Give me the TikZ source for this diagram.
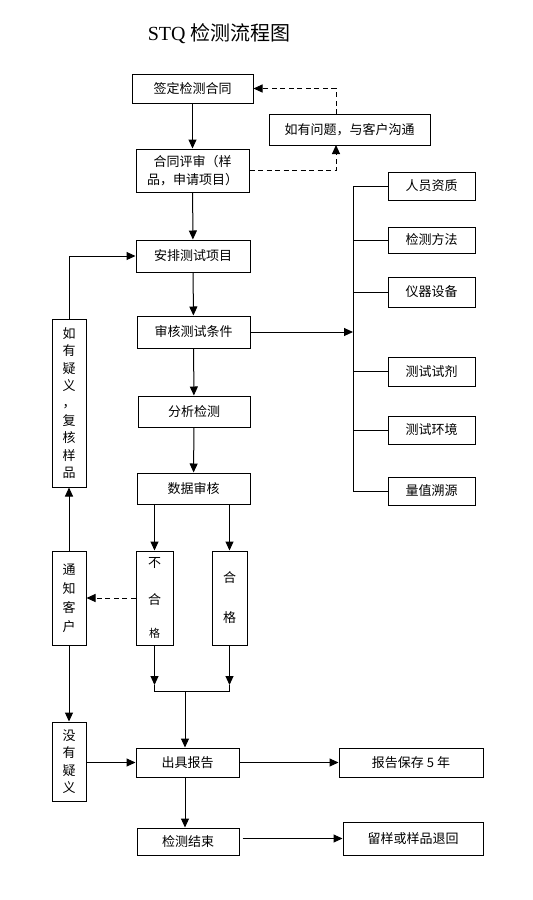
\documentclass[tikz,border=0pt]{standalone}
\usepackage{fontspec}
\setmainfont{Noto Sans CJK SC}
\newfontfamily\titlelatin{Liberation Serif}
\usetikzlibrary{arrows.meta}
\begin{document}
\begin{tikzpicture}[x=1pt,y=-1pt,
 box/.style={draw, line width=1pt, inner sep=0pt, align=center, font=\fontsize{13}{17.4}\selectfont},
 arr/.style={-{Triangle[length=9pt,width=8pt]}, line width=1pt},
 ln/.style={line width=1pt},
 dsh/.style={dash pattern=on 5pt off 3.5pt}]
\useasboundingbox[fill=white] (0,0) rectangle (533,900);

\node[font=\fontsize{20}{24}\selectfont] (title) at (219,34) {{\titlelatin STQ} 检测流程图};

% main column
\node[box, minimum width=121pt, minimum height=29pt] (b1) at (192.5,88.5) {签定检测合同};
\node[box, minimum width=161pt, minimum height=31pt] (q) at (349.5,129.5) {如有问题，与客户沟通};
\node[box, minimum width=113pt, minimum height=43pt] (b2) at (192.5,170.5) {合同评审（样\\品，申请项目）};
\node[box, minimum width=114pt, minimum height=32pt] (b3) at (193,256) {安排测试项目};
\node[box, minimum width=113pt, minimum height=32pt] (b4) at (193.5,332) {审核测试条件};
\node[box, minimum width=112pt, minimum height=31pt] (b5) at (194,411.5) {分析检测};
\node[box, minimum width=113pt, minimum height=31pt] (b6) at (193.5,488.5) {数据审核};

% left column
\node[box, minimum width=34pt, minimum height=168pt] (L1) at (69,403) {如\\有\\疑\\义\\，\\复\\核\\样\\品};
\node[box, minimum width=34pt, minimum height=94pt] (N) at (69,598) {通\\[1.6pt]知\\[1.6pt]客\\[1.6pt]户};
\node[box, minimum width=34pt, minimum height=79pt] (M) at (69,761.5) {没\\有\\疑\\义};

% pass / fail
\node[box, minimum width=37pt, minimum height=94pt] (NG) at (154.5,598) {不\\[19.6pt]合\\[15.6pt]{\fontsize{11}{13}\selectfont 格}};
\node[box, minimum width=35pt, minimum height=94pt] (OK) at (229.5,598) {合\\[22.6pt]格};

% bottom
\node[box, minimum width=103pt, minimum height=29pt] (R) at (187.5,762.5) {出具报告};
\node[box, minimum width=144pt, minimum height=29pt] (S) at (411,762.5) {报告保存 5 年};
\node[box, minimum width=102pt, minimum height=27pt] (E) at (188,841.5) {检测结束};
\node[box, minimum width=140pt, minimum height=33pt] (K) at (413,838.5) {留样或样品退回};

% right column
\node[box, minimum width=87pt, minimum height=28pt] (r1) at (431.5,186) {人员资质};
\node[box, minimum width=87pt, minimum height=26pt] (r2) at (431.5,240) {检测方法};
\node[box, minimum width=87pt, minimum height=30pt] (r3) at (431.5,292) {仪器设备};
\node[box, minimum width=87pt, minimum height=29pt] (r4) at (431.5,371.5) {测试试剂};
\node[box, minimum width=87pt, minimum height=28pt] (r5) at (431.5,430) {测试环境};
\node[box, minimum width=87pt, minimum height=28pt] (r6) at (431.5,491) {量值溯源};

\coordinate (bustop) at (353,186);
\coordinate (busbot) at (353,491);
\coordinate (qa) at (336,114);
\coordinate (qb) at (336,145);
\coordinate (jl) at (154.5,691);
\coordinate (jr) at (229.5,691);
\coordinate (jc) at (185,691);
\coordinate (al) at (154.5,685);
\coordinate (ar) at (229.5,685);

% main flow
\draw[arr] (b1) -- (b2);
\draw[arr] (b2) -- (b3);
\draw[arr] (b3) -- (b4);
\draw[arr] (b4) -- (b5);
\draw[arr] (b5) -- (b6);

% dashed feedback
\draw[arr, dsh] (qa) |- (b1.east);
\draw[arr, dsh] (b2.east) -| (qb);

% conditions bus
\draw[arr] (b4.east) -- (b4.east -| bustop);
\draw[ln] (bustop) -- (busbot);
\foreach \r in {r1,r2,r3,r4,r5,r6} \draw[ln] (\r.west -| bustop) -- (\r.west);

% judgement
\draw[arr] (NG.north |- b6.south) -- (NG.north);
\draw[arr] (OK.north |- b6.south) -- (OK.north);
\draw[arr, dsh] (NG.west) -- (N.east);
\draw[arr] (N.north) -- (L1.south);
\draw[arr] (L1.north) |- (b3.west);
\draw[arr] (N.south) -- (M.north);
\draw[arr] (NG.south) -- (al);
\draw[arr] (OK.south) -- (ar);
\draw[ln] (al) -- (jl) -- (jr) -- (ar);
\draw[arr] (jc) -- (jc |- R.north);

% bottom flow
\draw[arr] (M.east |- R.west) -- (R.west);
\draw[arr] (R.east) -- (S.west);
\draw[arr] (jc |- R.south) -- (jc |- E.north);
\draw[arr, shorten <=3pt] (E.east |- K.west) -- (K.west);
\end{tikzpicture}
\end{document}
